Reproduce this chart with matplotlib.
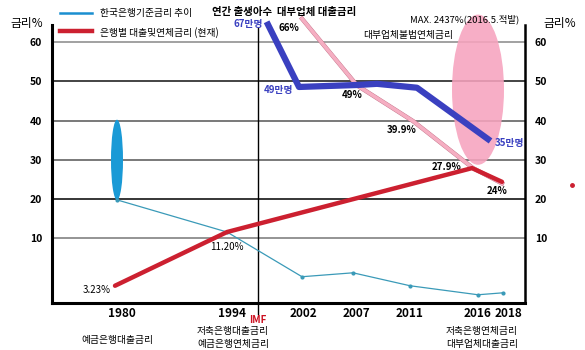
import matplotlib
matplotlib.use("Agg")
import matplotlib.pyplot as plt
from matplotlib.patches import Ellipse
from matplotlib.lines import Line2D
import matplotlib.patheffects as pe

plt.rcParams['font.family'] = ['Noto Sans CJK KR', 'DejaVu Sans']

# x positions along the (uneven) year axis
years = ['1980', '1994', '2002', '2007', '2011', '2016', '2018']
year_pos = [7.0, 18.0, 25.1, 30.4, 35.8, 42.6, 45.6]

# 한국은행기준금리 추이 (thin blue)
base_x = [6.5, 17.5, 25.0, 30.1, 35.8, 42.6, 45.1]
base_y = [19.8, 11.6, 0.2, 1.2, -2.1, -4.4, -3.9]

# 은행별 대출및연체금리 (red)
bank_x = [6.3, 17.5, 42.0, 45.0]
bank_y = [-2.1, 11.6, 27.9, 24.4]

# 대부업체 대출금리 (pink)
lender_x = [25.0, 30.5, 36.1, 42.1, 45.0]
lender_y = [66.0, 49.0, 39.9, 27.9, 24.0]

# 연간 출생아수 (thick blue)
birth_x = [21.6, 24.7, 30.5, 32.5, 36.5, 43.6]
birth_y = [64.5, 48.6, 49.1, 49.4, 48.4, 35.3]

W, H = 585, 350
fig = plt.figure(figsize=(W / 100, H / 100), dpi=100)
ax = fig.add_axes([52 / W, 1 - 303 / H, (525 - 52) / W, (303 - 25) / H])
ax.set_xlim(0, 47.3)
ax.set_ylim(-6.5, 64.4)

grid_cols = ['#777777', '#000000', '#555555', '#555555', '#111111', '#888888']
for v, c in zip([10, 20, 30, 40, 50, 60], grid_cols):
    ax.axhline(v, color=c, lw=1.1, zorder=0.5)

# ellipses
ax.add_patch(Ellipse((42.6, 47.9), 5.2, 38.3, facecolor='#f7a3be', edgecolor='none',
                     alpha=0.88, zorder=1, clip_on=False))
ax.add_patch(Ellipse((6.5, 30.0), 1.2, 20.5, facecolor='#1a9ad6', edgecolor='none', zorder=2))

# IMF line
ax.axvline(20.6, ymin=-0.04, ymax=0.99, color='black', lw=1, clip_on=False, zorder=1.5)

ax.plot(base_x, base_y, color='#3a9ab8', lw=0.9, marker='o', ms=2, zorder=3)
ax.plot(lender_x, lender_y, color='#f5aec2', lw=2.6, zorder=3, clip_on=False,
        path_effects=[pe.Stroke(linewidth=3.1, foreground='#c07085'), pe.Normal()])
ax.plot(bank_x, bank_y, color='#cc2030', lw=3.2, zorder=4, solid_capstyle='round')
ax.plot(birth_x, birth_y, color='#3a40c0', lw=4.5, zorder=5, clip_on=False)
ax.plot([52.0], [23.7], 'o', color='#cc2030', ms=2.5, clip_on=False)

# axes styling
ax.set_xticks(year_pos)
ax.set_xticklabels(years, fontweight='bold', fontsize=8.5)
ax.set_yticks([10, 20, 30, 40, 50, 60])
ax.set_yticklabels(['10', '20', '30', '40', '50', '60'], fontweight='bold', fontsize=7.5)
ax.tick_params(axis='y', length=0, pad=7, labelright=True)
ax.tick_params(axis='x', length=0, pad=3)
ax.spines['top'].set_visible(False)
ax.spines['left'].set_linewidth(2.2)
ax.spines['right'].set_linewidth(1.8)
ax.spines['bottom'].set_linewidth(2.2)

# annotations
bold = dict(fontsize=7, fontweight='bold', ha='center', va='center')
blue = dict(fontsize=7, fontweight='bold', ha='center', va='center', color='#3a40c0')
ax.text(19.6, 64.6, '67만명', **blue)
ax.text(23.7, 63.7, '66%', **bold)
ax.text(22.7, 47.9, '49만명', **blue)
ax.text(30.0, 46.6, '49%', **bold)
ax.text(35.0, 37.7, '39.9%', **bold)
ax.text(39.5, 28.2, '27.9%', **bold)
ax.text(44.5, 22.1, '24%', **bold)
ax.text(45.8, 34.3, '35만명', **blue)
ax.text(17.5, 7.8, '11.20%', fontsize=7, ha='center', va='center')
ax.text(4.5, -3.2, '3.23%', fontsize=7, ha='center', va='center')
ax.text(35.6, 61.9, '대부업체불법연체금리', fontsize=7, ha='center', va='center')
ax.text(41.3, 65.8, 'MAX. 2437%(2016.5.적발)', fontsize=6.8, ha='center', va='center')
ax.text(20.6, -10.9, 'IMF', fontsize=7, fontweight='bold', color='#cc1020', ha='center', va='center')

small = dict(fontsize=7, ha='center', va='center')
ax.text(6.5, -16.0, '예금은행대출금리', **small)
ax.text(18.1, -13.6, '저축은행대출금리', **small)
ax.text(18.1, -17.0, '예금은행연체금리', **small)
ax.text(43.0, -13.6, '저축은행연체금리', **small)
ax.text(43.0, -17.0, '대부업체대출금리', **small)

# header texts
fig.text(27 / W, 1 - 24 / H, '금리%', fontsize=8.5, ha='center', va='center')
fig.text(560 / W, 1 - 23 / H, '금리%', fontsize=8.5, ha='center', va='center')
fig.text(212 / W, 1 - 12 / H, '연간 출생아수  대부업체 대출금리', fontsize=7.5,
         fontweight='bold', ha='left', va='center')

# legend
fig.add_artist(Line2D([60 / W, 92 / W], [1 - 13 / H] * 2, color='#1a8fd0', lw=1.8))
fig.add_artist(Line2D([60 / W, 92 / W], [1 - 31 / H] * 2, color='#cc2030', lw=3.2))
fig.text(100 / W, 1 - 13 / H, '한국은행기준금리 추이', fontsize=7, ha='left', va='center')
fig.text(100 / W, 1 - 33 / H, '은행별 대출및연체금리 (현재)', fontsize=7, ha='left', va='center')

fig.savefig('out.png', dpi=100)
